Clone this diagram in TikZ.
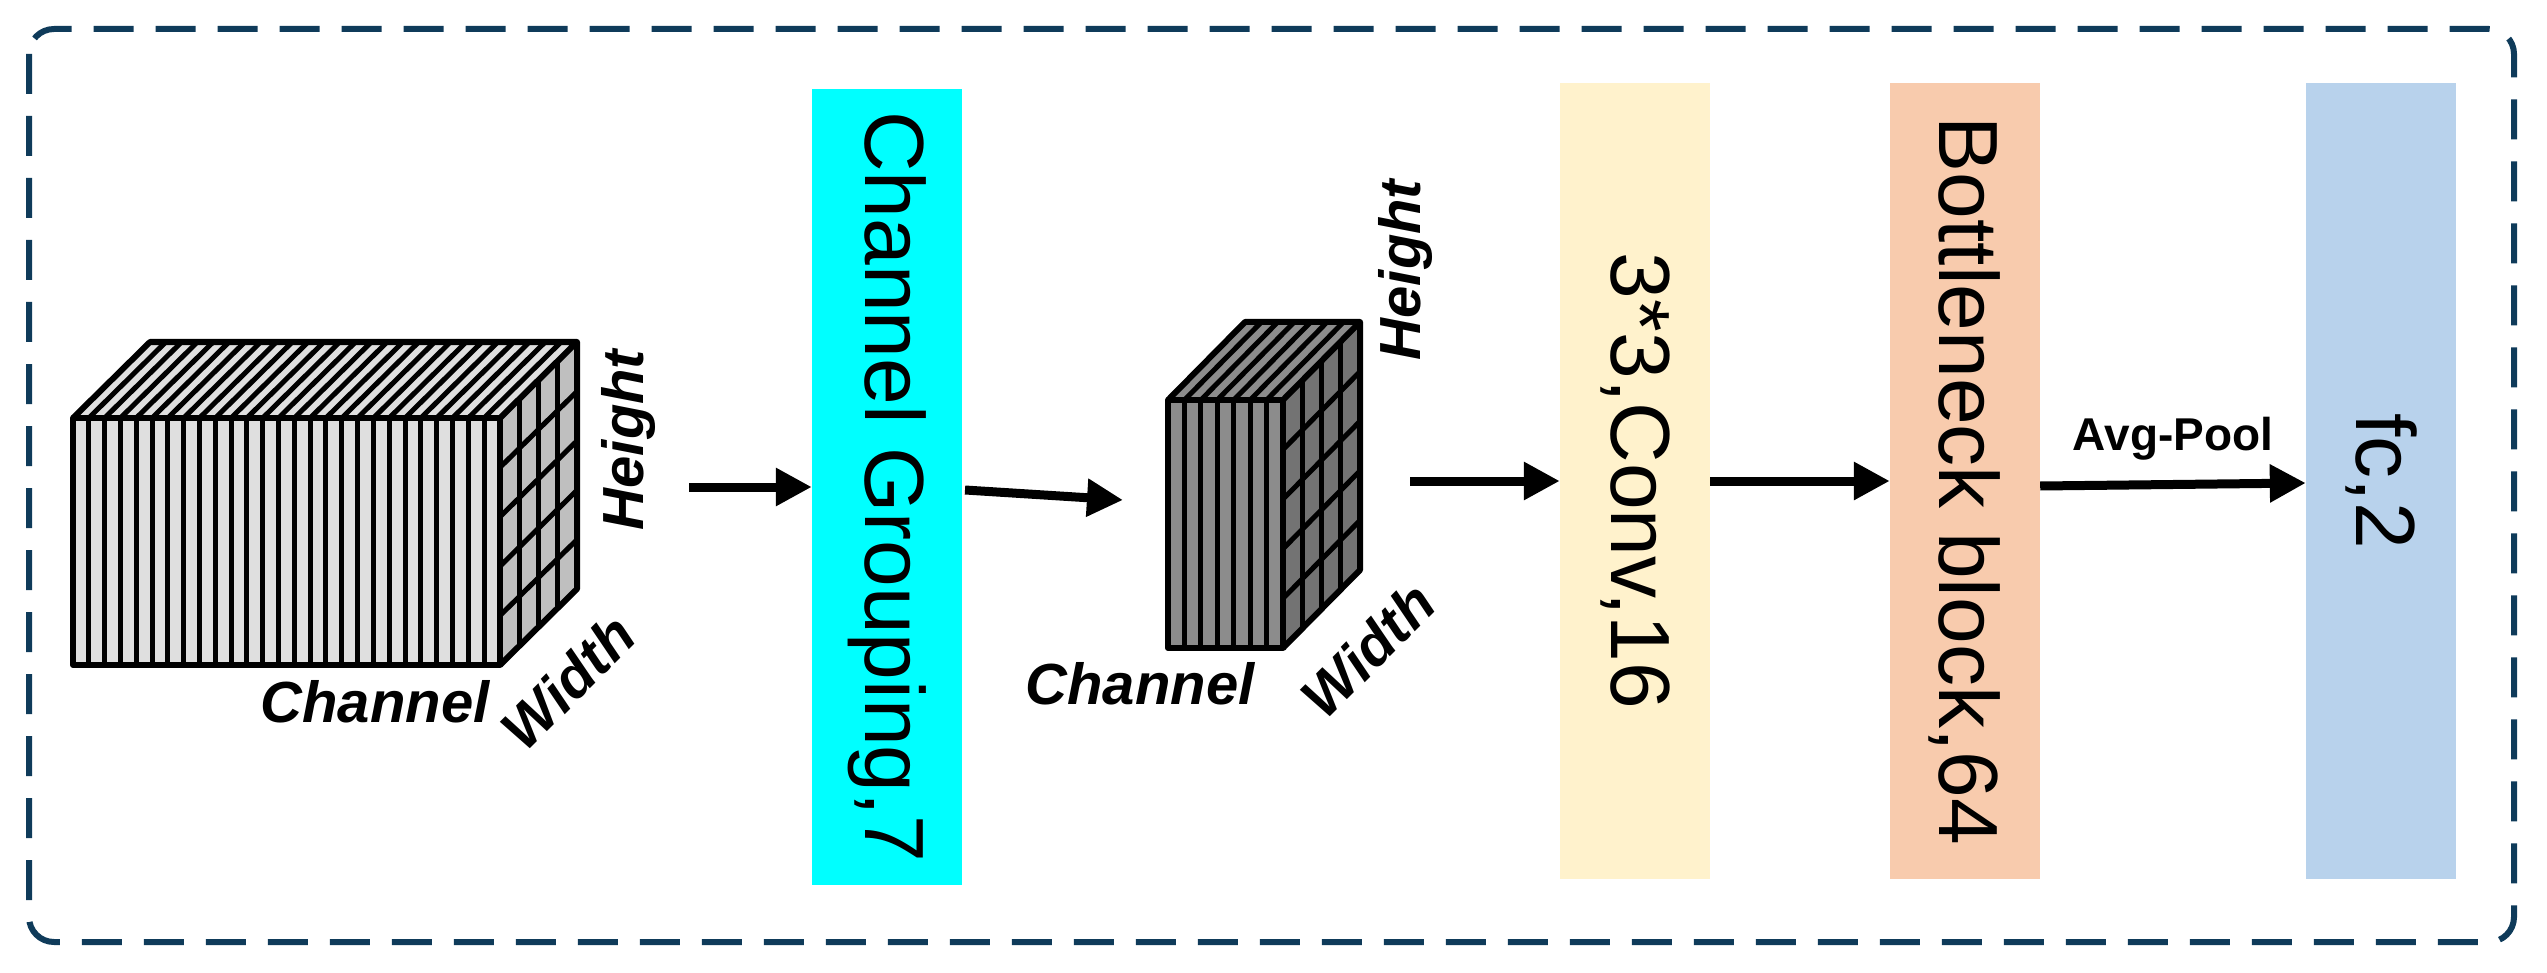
\documentclass[tikz,border=0pt]{standalone}
\usepackage{fontspec}
\setmainfont{Liberation Sans}
\usetikzlibrary{arrows.meta}
\definecolor{navy}{HTML}{0F3B5A}
\definecolor{cyanbox}{RGB}{0,255,255}
\begin{document}
\begin{tikzpicture}[x=1pt,y=-1pt,
  box/.style={draw=none,minimum width=150pt,minimum height=795pt,inner sep=0pt},
  boxtxt/.style={font=\fontsize{84}{84}\selectfont,rotate=-90},
  arr/.style={line width=9pt,-{Triangle[length=36pt,width=36pt]}},
  lab/.style={font=\fontsize{58}{58}\selectfont\bfseries\itshape},
  ln/.style={line width=5pt,black}]
\useasboundingbox (0,0) rectangle (2547,973);
\draw[navy,line width=6pt,dash pattern=on 40pt off 22pt,rounded corners=25pt] (29,29) rectangle (2514,942);
% big cube
\fill[gray!25] (73,418) rectangle (500,665);
\fill[gray!25] (73,418) -- (150,342) -- (577,342) -- (500,418) -- cycle;
\fill[gray!50] (500,418) -- (577,342) -- (577,589) -- (500,665) -- cycle;
\foreach \i in {1,...,26}{\pgfmathsetmacro\xx{73+\i*15.81}
  \draw[ln] (\xx,418) -- (\xx,665);
  \draw[ln] (\xx,418) -- ++(77,-76);}
\foreach \k in {1,2,3}{\draw[ln] ({500+\k*19.25},{418-\k*19}) -- ++(0,247);}
\foreach \j in {1,...,4}{\draw[ln] (500,{418+\j*49.4}) -- ++(77,-76);}
\draw[ln,line width=6pt,line join=round] (73,418) rectangle (500,665);
\draw[ln,line width=6pt,line join=round] (73,418) -- (150,342) -- (577,342) -- (577,589) -- (500,665) (577,342) -- (500,418);
\node[lab,rotate=90] (h1) at (628,440) {Height};
\node[lab,rotate=45] (w1) at (568,682) {Width};
\node[lab] (c1) at (375,702) {Channel};
% small cube
\fill[gray!90] (1168,400) rectangle (1283,648);
\fill[gray!90] (1168,400) -- (1245,322) -- (1360,322) -- (1283,400) -- cycle;
\fill[black!55] (1283,400) -- (1360,322) -- (1360,570) -- (1283,648) -- cycle;
\foreach \i in {1,...,6}{\pgfmathsetmacro\xx{1168+\i*16.43}
  \draw[ln] (\xx,400) -- (\xx,648);
  \draw[ln] (\xx,400) -- ++(77,-78);}
\foreach \k in {1,2,3}{\draw[ln] ({1283+\k*19.25},{400-\k*19.5}) -- ++(0,248);}
\foreach \j in {1,...,4}{\draw[ln] (1283,{400+\j*49.6}) -- ++(77,-78);}
\draw[ln,line width=6pt,line join=round] (1168,400) rectangle (1283,648);
\draw[ln,line width=6pt,line join=round] (1168,400) -- (1245,322) -- (1360,322) -- (1360,570) -- (1283,648) (1360,322) -- (1283,400);
\node[lab] (c2) at (1140,684) {Channel};
\node[lab,rotate=45] (w2) at (1368,650) {Width};
\node[lab,rotate=90] (h2) at (1405,270) {Height};
% boxes
\node[box,fill=cyanbox] (cg) at (887,487) {};
\node[boxtxt] at (cg) {Channel Grouping,7};
\node[box,fill={rgb,255:red,255;green,242;blue,204}] (cv) at (1635,481) {};
\node[boxtxt] at (cv) {3*3,Conv,16};
\node[box,fill={rgb,255:red,248;green,203;blue,173}] (bb) at (1965,481) {};
\node[boxtxt] at (bb) {Bottleneck block,64};
\node[box,fill={rgb,255:red,184;green,210;blue,236}] (fc) at (2381,481) {};
\node[boxtxt] at (fc) {fc,2};
% arrows
\coordinate (a1) at (689,487);
\coordinate (a2s) at (965,490);
\coordinate (a2e) at (1123,500);
\coordinate (a3) at (1410,481);
\draw[arr] (a1) -- (cg.west |- a1);
\draw[arr] (a2s) -- (a2e);
\draw[arr] (a3) -- (cv.west |- a3);
\draw[arr] (cv.east |- 0,481) -- (bb.west |- 0,481);
\draw[arr] (bb.east |- 0,486) -- node[above=16pt,font=\fontsize{46}{46}\selectfont\bfseries] {Avg-Pool} (fc.west |- 0,483);
\end{tikzpicture}
\end{document}
